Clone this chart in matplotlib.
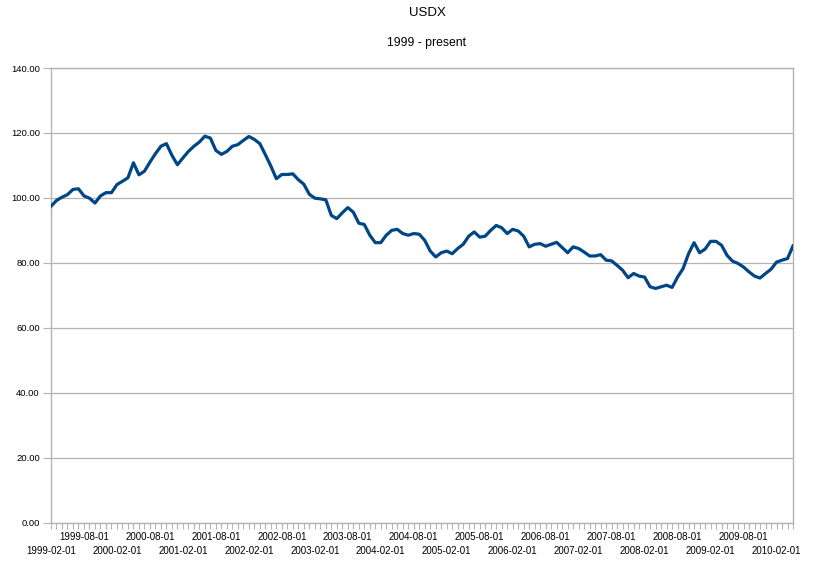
import numpy as np
import pandas as pd
import matplotlib
matplotlib.use('Agg')
import matplotlib.pyplot as plt
from matplotlib.ticker import FixedLocator, FuncFormatter, NullFormatter
from matplotlib.transforms import blended_transform_factory

plt.rcParams['font.family'] = ['Liberation Sans', 'DejaVu Sans']

# monthly USDX, 1999-02 .. 2010-05
months = pd.date_range('1999-02-01', periods=136, freq='MS')
usdx = [
    97.4, 99.2, 100.2, 101.0, 102.6, 102.8, 100.6, 99.9, 98.4, 100.6, 101.6, 101.6,
    104.1, 105.1, 106.2, 110.8, 107.1, 108.2, 111.0, 113.6, 115.9, 116.7, 113.1, 110.2,
    112.3, 114.3, 115.9, 117.2, 119.0, 118.4, 114.6, 113.4, 114.3, 115.9, 116.4, 117.7,
    118.9, 118.0, 116.7, 113.3, 109.8, 105.9, 107.2, 107.2, 107.4, 105.6, 104.2, 101.1,
    99.9, 99.7, 99.4, 94.6, 93.6, 95.4, 97.0, 95.6, 92.2, 91.8, 88.5, 86.2,
    86.2, 88.5, 90.0, 90.3, 89.0, 88.5, 89.0, 88.8, 86.9, 83.6, 81.8, 83.1,
    83.6, 82.8, 84.4, 85.7, 88.2, 89.5, 87.9, 88.2, 90.0, 91.5, 90.8, 89.0,
    90.3, 89.8, 88.2, 84.9, 85.7, 85.9, 85.1, 85.7, 86.3, 84.7, 83.1, 84.9,
    84.4, 83.3, 82.1, 82.1, 82.5, 80.8, 80.6, 79.2, 77.7, 75.4, 76.7, 75.9,
    75.6, 72.6, 72.1, 72.6, 73.1, 72.4, 75.6, 78.2, 82.8, 86.2, 83.1, 84.2,
    86.6, 86.6, 85.4, 82.3, 80.5, 79.8, 78.7, 77.2, 75.9, 75.3, 76.7, 78.0,
    80.2, 80.8, 81.3, 85.2,
]
yticks = [0, 20, 40, 60, 80, 100, 120, 140]

grey = '#b3b3b3'
x = np.arange(len(usdx))

fig = plt.figure(figsize=(8.17, 5.67), dpi=100)
ax = fig.add_axes([51 / 817, 44.5 / 567, 742 / 817, 454.5 / 567])

ax.plot(x, usdx, color='#004586', lw=2.3, solid_joinstyle='round', zorder=3)

ax.set_xlim(0, len(usdx) - 1)
ax.set_ylim(0, 140)
ax.set_yticks(yticks)
ax.yaxis.set_major_formatter(FuncFormatter(lambda v, p: '%.2f' % v))
ax.grid(axis='y', color=grey, lw=0.9)
ax.set_axisbelow(True)

# ticks every month, labels every 6 months in two alternating rows
major = list(range(0, len(usdx), 6))
ax.xaxis.set_major_locator(FixedLocator(major))
ax.xaxis.set_minor_locator(FixedLocator(list(x)))
ax.xaxis.set_major_formatter(NullFormatter())
trans = blended_transform_factory(ax.transData, ax.transAxes)
for k, i in enumerate(major):
    s = months[i].strftime('%Y-%m-%d')
    ypos = -28 / 454.5 if k % 2 == 0 else -15 / 454.5
    ax.text(i, ypos, s, transform=trans, ha='center', va='center', fontsize=7)

ax.tick_params(axis='x', which='both', length=4, width=0.8, color=grey)
ax.tick_params(axis='y', length=6, width=0.8, color=grey, labelsize=6.8, pad=2)

for side in ['left', 'bottom', 'right', 'top']:
    ax.spines[side].set_color(grey)
    ax.spines[side].set_linewidth(1.0)

fig.text(0.5226, 1 - 12.5 / 567, 'USDX', ha='center', va='center', fontsize=9.5)
fig.text(0.5226, 1 - 43 / 567, '1999 - present', ha='center', va='center', fontsize=8.8)

fig.savefig('out.png', dpi=100)
